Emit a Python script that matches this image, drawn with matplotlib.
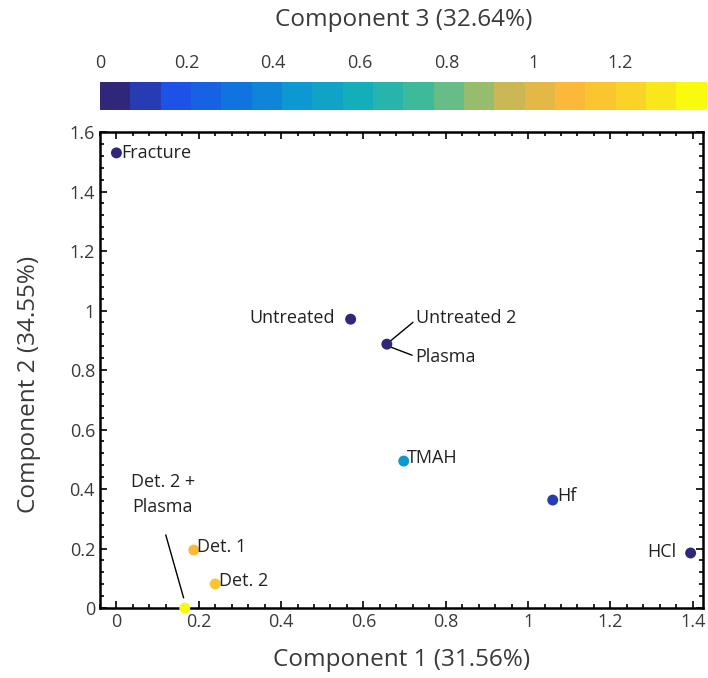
import numpy as np
import matplotlib
matplotlib.use('Agg')
import matplotlib.pyplot as plt
from matplotlib.colors import LinearSegmentedColormap, Normalize
from matplotlib.ticker import MultipleLocator, FuncFormatter

plt.rcParams['font.family'] = ['Open Sans', 'DejaVu Sans']

# sample scores
names = ['Fracture', 'Untreated', 'Untreated 2', 'TMAH', 'Hf', 'HCl', 'Det. 1', 'Det. 2', 'Det. 2 + Plasma']
comp1 = [0.0, 0.569, 0.657, 0.698, 1.06, 1.395, 0.188, 0.24, 0.166]
comp2 = [1.53, 0.971, 0.887, 0.494, 0.363, 0.185, 0.195, 0.081, 0.0]
comp3 = [0.0, 0.03, 0.04, 0.45, 0.08, 0.03, 1.1, 1.18, 1.38]

# parula-like colormap, stretched to match the bar
parula_pts = [(0.00, (0.190, 0.150, 0.480)),
              (0.10, (0.120, 0.310, 0.900)),
              (0.21, (0.060, 0.450, 0.880)),
              (0.32, (0.050, 0.600, 0.820)),
              (0.43, (0.080, 0.690, 0.720)),
              (0.53, (0.250, 0.730, 0.600)),
              (0.61, (0.500, 0.750, 0.470)),
              (0.68, (0.780, 0.720, 0.330)),
              (0.79, (0.990, 0.720, 0.220)),
              (0.89, (0.980, 0.820, 0.160)),
              (1.00, (0.976, 0.983, 0.054))]
parula = LinearSegmentedColormap.from_list('parula', parula_pts, N=20)
norm = Normalize(0, 1.4)

fig = plt.figure(figsize=(7.08, 6.78), dpi=100)
ax = fig.add_axes([0.1412, 0.1032, 0.8517, 0.702])
cax = fig.add_axes([0.1412, 0.8378, 0.857, 0.0413])

sc = ax.scatter(comp1, comp2, c=comp3, cmap=parula, norm=norm, s=62, zorder=3,
                edgecolors='none', clip_on=False)

ax.set_xlim(-0.04, 1.425)
ax.set_ylim(0, 1.6)
fmt = FuncFormatter(lambda v, p: '%g' % round(v, 2))
ax.xaxis.set_major_locator(MultipleLocator(0.2))
ax.xaxis.set_minor_locator(MultipleLocator(0.04))
ax.yaxis.set_major_locator(MultipleLocator(0.2))
ax.yaxis.set_minor_locator(MultipleLocator(0.04))
ax.xaxis.set_major_formatter(fmt)
ax.yaxis.set_major_formatter(fmt)
ax.tick_params(which='both', direction='in', top=True, right=True, width=1.2, colors='black',
               labelcolor='#3a3a3a', labelsize=13)
ax.tick_params(which='major', length=5)
ax.tick_params(which='minor', length=3)
for s in ax.spines.values():
    s.set_linewidth(1.8)

ax.set_xlabel('Component 1 (31.56%)', fontsize=17.5, color='#3a3a3a', labelpad=12)
ax.set_ylabel('Component 2 (34.55%)', fontsize=17.5, color='#3a3a3a')
ax.yaxis.set_label_coords(-0.097, 0.47)

fs = 13
tc = '#222222'
ax.text(0.012, 1.53, 'Fracture', fontsize=fs, color=tc, va='center', ha='left')
ax.text(0.53, 0.975, 'Untreated', fontsize=fs, color=tc, va='center', ha='right')
ax.text(0.727, 0.975, 'Untreated 2', fontsize=fs, color=tc, va='center', ha='left')
ax.plot([0.665, 0.72], [0.897, 0.96], color='black', lw=1)
ax.text(0.727, 0.845, 'Plasma', fontsize=fs, color=tc, va='center', ha='left')
ax.plot([0.665, 0.718], [0.878, 0.85], color='black', lw=1)
ax.text(0.705, 0.505, 'TMAH', fontsize=fs, color=tc, va='center', ha='left')
ax.text(1.07, 0.375, 'Hf', fontsize=fs, color=tc, va='center', ha='left')
ax.text(1.36, 0.19, 'HCl', fontsize=fs, color=tc, va='center', ha='right')
ax.text(0.195, 0.205, 'Det. 1', fontsize=fs, color=tc, va='center', ha='left')
ax.text(0.248, 0.09, 'Det. 2', fontsize=fs, color=tc, va='center', ha='left')
ax.text(0.113, 0.38, 'Det. 2 +\nPlasma', fontsize=fs, color=tc, va='center', ha='center',
        linespacing=1.5)
ax.plot([0.12, 0.163], [0.245, 0.035], color='black', lw=1)

cb = fig.colorbar(sc, cax=cax, orientation='horizontal')
cb.outline.set_visible(False)
cax.xaxis.set_ticks_position('top')
cax.xaxis.set_label_position('top')
cb.set_ticks([0, 0.2, 0.4, 0.6, 0.8, 1, 1.2])
cb.set_ticklabels(['0', '0.2', '0.4', '0.6', '0.8', '1', '1.2'])
cax.tick_params(length=0, labelsize=13, labelcolor='#3a3a3a', pad=7)
cb.set_label('Component 3 (32.64%)', fontsize=17.5, color='#3a3a3a', labelpad=20)

fig.savefig('out.png', dpi=100)
